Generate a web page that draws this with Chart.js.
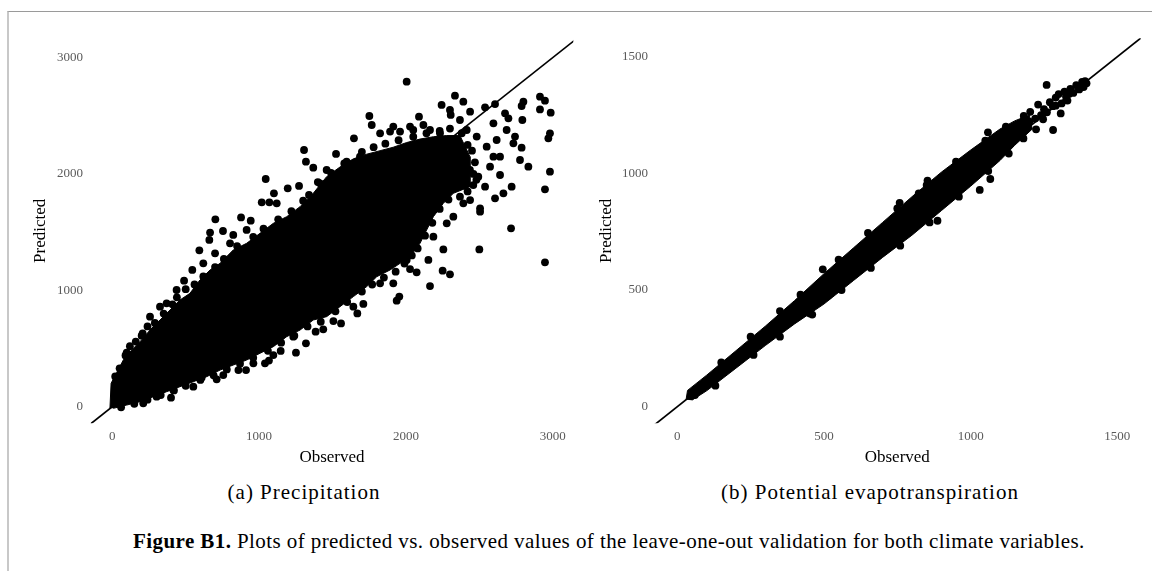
<!DOCTYPE html>
<html>
<head>
<meta charset="utf-8">
<script src="https://cdn.jsdelivr.net/npm/chart.js@4.4.0/dist/chart.umd.min.js"></script>
<style>
html,body{margin:0;padding:0;background:#fff;width:1152px;height:571px;overflow:hidden;position:relative;}
#frame{position:absolute;left:7px;top:11px;width:1145px;height:560px;border-top:1px solid #9a9a9a;border-left:2px solid #c8c8c8;box-sizing:border-box;}
canvas{position:absolute;top:0;}
#c1{left:0;}
#c2{left:580px;}
.sub{position:absolute;width:440px;text-align:center;font-family:"Liberation Serif";font-size:21px;line-height:24px;letter-spacing:1px;color:#000;white-space:nowrap;}
#cap{position:absolute;left:133px;top:530px;font-family:"Liberation Serif";font-size:21px;line-height:22px;letter-spacing:0.42px;color:#000;white-space:nowrap;}
</style>
</head>
<body>
<div id="frame"></div>
<canvas id="c1" width="580" height="480"></canvas>
<canvas id="c2" width="572" height="480"></canvas>
<div class="sub" style="left:84px;top:480px;">(a) Precipitation</div>
<div class="sub" style="left:650px;top:480px;">(b) Potential evapotranspiration</div>
<div id="cap"><b>Figure B1.</b> Plots of predicted vs. observed values of the leave-one-out validation for both climate variables.</div>
<script>
// ---------- Panel (a) Precipitation ----------
const precipXTicks = [0, 1000, 2000, 3000];
const precipYTicks = [0, 1000, 2000, 3000];
const precipXTickLabels = ['0', '1000', '2000', '3000'];
const precipYTickLabels = ['0', '1000', '2000', '3000'];
// outline of the dense (fully overlapping) cloud of points [observed, predicted]
const precipDenseOutline = [
  [-16,-14],[-8,201],[75,401],[132,487],[189,559],[257,659],[325,745],[393,831],[461,917],
  [529,974],[597,1089],[666,1175],[734,1232],[824,1347],[915,1404],[1006,1490],[1097,1576],
  [1188,1633],[1279,1719],[1369,1834],[1460,1977],[1551,2060],[1642,2130],[1733,2170],
  [1824,2200],[1914,2230],[2005,2270],[2096,2300],[2187,2320],[2278,2330],[2368,2330],
  [2436,2149],[2436,1891],
  [2323,1834],[2255,1748],[2187,1633],[2141,1518],[2096,1404],[2028,1289],[1960,1232],
  [1892,1175],[1801,1117],[1733,1032],[1642,946],[1551,860],[1460,774],[1369,745],
  [1279,659],[1188,602],[1097,516],[1006,459],[915,401],[824,358],[734,315],[643,258],
  [552,215],[461,172],[370,129],[280,86],[189,43],[98,14],[7,-14]
];
// individual points outside / on the edge of the dense cloud [observed, predicted]
const precipPoints = [
  [2005,2793],[2334,2673],[2243,2593],[2391,2621],[2607,2601],[2539,2573],[2800,2621],[2788,2584],
  [2913,2664],[2947,2630],[2913,2555],[2986,2527],[2981,2349],[2970,2306],[2981,2020],[2947,1868],
  [2947,1241],[2716,1533],[2500,1352],[2793,2464],[2788,2226],[2834,2063],[2777,2120],[2732,2263],
  [2675,2521],[2698,2478],[2743,2321],[2720,1891],[2664,1834],[2607,1791],[2641,1991],[2539,1891],
  [2493,1977],[2505,1705],[2505,1676],[2459,1905],[2596,2435],[2618,2292],[2437,2535],[2300,2550],
  [2305,2507],[2368,2464],[2414,2378],[2482,2321],[2550,2235],[2596,2149],[2573,2063],[2436,2034],
  [2391,1748],[2323,1633],[2368,1805],[2437,1776],[2686,2378],[2641,2149],
  [1751,2498],[1767,2421],[2089,2492],[1646,2306],[1306,2206],[1319,2106],[1369,2054],[1524,2172],
  [1045,1957],[1018,1756],[1070,1756],[1101,1834],[1195,1877],[1272,1897],[702,1610],[877,1627],
  [943,1599],[666,1496],[754,1510],[824,1476],[661,1433],[593,1344],[700,1318],[545,1175],
  [489,1083],[370,888],[257,774],[207,631],[98,464],[1824,2349],[1892,2364],[1914,2407],
  [1960,2364],[2028,2407],[2119,2421],[2050,2378],[2232,2349],[2164,2378],[1687,2149],[1596,2106],
  [1460,2034],[1415,1920],[1120,1748],[915,1519],[802,1404],[620,1232],[438,1003],[325,860],
  [1937,911],[1955,946],[2164,1037],[2300,1138],[2250,1169],[2073,1155],[2028,1183],[2255,1352],
  [2153,1261],[1669,802],[1710,883],[1558,716],[1506,736],[1437,665],[1385,645],[1319,545],
  [1251,464],[1147,479],[1067,396],[1040,373],[911,315],[859,315],[756,272],[711,235],[609,252],
  [416,143],[400,78],[302,86],[1914,1060],[1824,1060],[2005,1261],[2096,1518],[2187,1461],
  [2278,1576],[2141,1690],[1642,860],[1233,602],[1097,444],[961,373],[552,172],[211,29],
  // ragged upper edge
  [20,260],[50,330],[90,440],[120,520],[160,560],[200,610],[240,690],[290,720],[350,800],
  [410,880],[440,940],[500,1010],[560,1050],[620,1120],[700,1200],[760,1270],[850,1380],
  [960,1460],[1030,1530],[1130,1610],[1220,1680],[1300,1770],[1340,1820],[1400,1930],
  [1490,2010],[1580,2090],[1700,2190],[1780,2230],[1860,2260],[1950,2290],[2050,2320],
  [2140,2350],[2230,2370],[2300,2390],[2380,2350],
  // ragged right end
  [2420,2250],[2450,2200],[2470,2100],[2460,2000],[2480,1950],[2420,1850],[2400,1900],
  // ragged lower edge
  [2290,1780],[2230,1700],[2180,1580],[2130,1470],[2080,1360],[2040,1300],[1990,1230],
  [1930,1160],[1850,1110],[1770,1050],[1700,990],[1600,900],[1520,820],[1420,730],[1330,690],
  [1240,610],[1150,550],[1060,480],[960,420],[870,370],[780,320],[690,270],[600,230],[500,180],
  [420,140],[330,100],[240,60],[150,25],[60,-5]
];
const precipOneToOne = [[-200,-200],[3400,3400]];

// ---------- Panel (b) Potential evapotranspiration ----------
const petXTicks = [0, 500, 1000, 1500];
const petYTicks = [0, 500, 1000, 1500];
const petXTickLabels = ['0', '500', '1000', '1500'];
const petYTickLabels = ['0', '500', '1000', '1500'];
const petDenseOutline = [
  [30,30],[35,70],[100,135],[200,240],[300,345],[400,455],[500,570],[600,680],[700,790],
  [800,900],[900,1005],[1000,1100],[1100,1190],[1150,1225],[1200,1250],
  [1210,1190],[1150,1120],[1100,1055],[1000,945],[900,840],[800,735],[700,640],[600,540],
  [500,440],[400,355],[300,262],[200,165],[100,68],[50,28]
];
const petPoints = [
  [1259,1379],[1281,1186],[1223,1189],[1181,1246],[1203,1264],[1247,1232],[1059,1176],[1031,929],
  [1067,976],[853,969],[887,797],[823,914],[452,400],[514,476],[496,589],[758,874],[1367,1374],
  [1395,1386],[1325,1329],[1307,1257],
  [1230,1295],[1250,1275],[1270,1305],[1290,1325],[1300,1340],[1320,1350],[1340,1362],[1350,1345],
  [1360,1378],[1380,1392],[1385,1370],[1370,1360],[1330,1312],[1310,1300],[1280,1288],[1260,1262],
  [1240,1250],[1220,1235],[1200,1222],[1180,1205],[1160,1190],[1290,1290],[1335,1340],[1390,1395],
  [60,50],[150,190],[250,300],[350,410],[420,480],[550,630],[650,745],[750,850],[850,950],
  [950,1050],[1050,1140],[1120,1200],[130,90],[260,222],[350,300],[460,395],[560,500],[660,595],
  [760,690],[860,790],[960,900],[1060,1010],[1130,1085],[1180,1150]
];
const petOneToOne = [[-200,-200],[1700,1700]];

// ---------- helpers ----------
const toXY = arr => arr.map(p => ({x: p[0], y: p[1]}));
const serif = 'Liberation Serif';
function fixedTicks(values) { return scale => { scale.ticks = values.map(v => ({value: v})); }; }

function makeChart(id, cfg) {
  return new Chart(document.getElementById(id), {
    type: 'scatter',
    data: {
      datasets: [
        {data: toXY(cfg.line), showLine: true, borderColor: '#000', borderWidth: 1.7,
         pointRadius: 0, fill: false, order: 4},
        {data: toXY(cfg.outline), showLine: true, fill: 'shape', backgroundColor: '#000',
         borderColor: '#000', borderWidth: 1, pointRadius: 0, order: 3},
        {data: toXY(cfg.points), pointRadius: 3.9, pointBackgroundColor: '#000',
         pointBorderWidth: 0, order: 2}
      ]
    },
    options: {
      responsive: false,
      animation: false,
      events: [],
      layout: {padding: {top: 38.3, right: cfg.padRight, bottom: 0, left: 0}},
      plugins: {legend: {display: false}, tooltip: {enabled: false}},
      scales: {
        x: {
          type: 'linear', min: cfg.xMin, max: cfg.xMax,
          afterBuildTicks: fixedTicks(cfg.xTicks),
          afterFit: s => { s.height = 56.7; },
          grid: {display: false, drawTicks: false}, border: {display: false},
          ticks: {font: {family: serif, size: 13}, color: '#5a5a5a', padding: 5.2,
                  maxRotation: 0, autoSkip: false,
                  callback: (v, i) => cfg.xLabels[i]},
          title: {display: true, text: 'Observed', color: '#000',
                  font: {family: serif, size: 17}, padding: {top: 0, bottom: 12.3}}
        },
        y: {
          type: 'linear', min: cfg.yMin, max: cfg.yMax,
          afterBuildTicks: fixedTicks(cfg.yTicks),
          afterFit: s => { s.width = cfg.yWidth; },
          grid: {display: false, drawTicks: false}, border: {display: false},
          ticks: {font: {family: serif, size: 13}, color: '#5a5a5a', padding: cfg.yTickPad,
                  autoSkip: false, callback: (v, i) => cfg.yLabels[i]},
          title: {display: true, text: 'Predicted', color: '#000',
                  font: {family: serif, size: 17}, padding: {top: cfg.yTitlePad, bottom: 0}}
        }
      }
    }
  });
}

makeChart('c1', {
  outline: precipDenseOutline, points: precipPoints, line: precipOneToOne,
  xMin: -147, xMax: 3140, yMin: -142.6, yMax: 3165.9,
  xTicks: precipXTicks, yTicks: precipYTicks, xLabels: precipXTickLabels, yLabels: precipYTickLabels,
  padRight: 6.7, yWidth: 90.7, yTickPad: 7.7, yTitlePad: 30.8
});
makeChart('c2', {
  outline: petDenseOutline, points: petPoints, line: petOneToOne,
  xMin: -80, xMax: 1580, yMin: -71.1, yMax: 1578.9,
  xTicks: petXTicks, yTicks: petYTicks, xLabels: petXTickLabels, yLabels: petYTickLabels,
  padRight: 11.2, yWidth: 73.8, yTickPad: 5.8, yTitlePad: 16.3
});
</script>
</body>
</html>
